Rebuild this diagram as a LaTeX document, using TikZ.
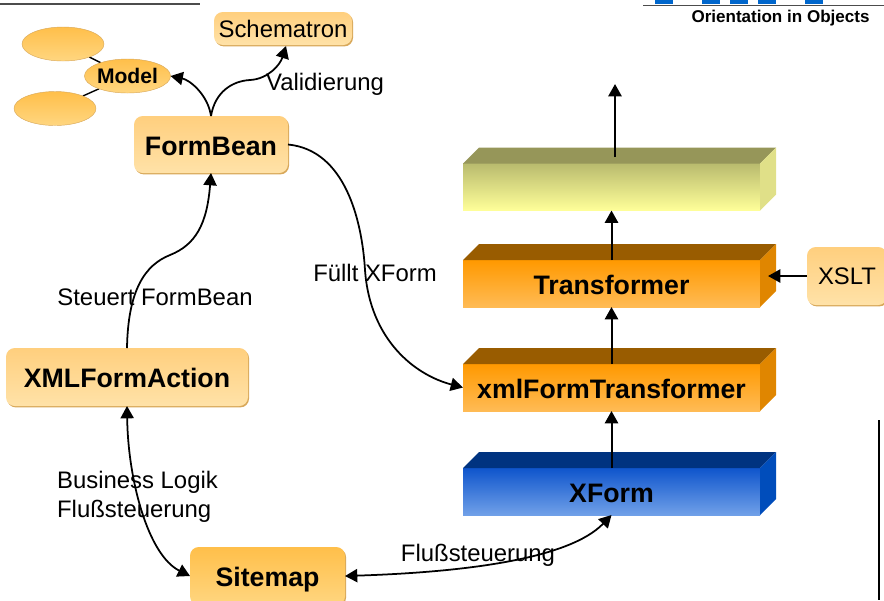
\documentclass[tikz,border=0pt]{standalone}
\usepackage{fontspec}
\setmainfont{Liberation Sans}
\usetikzlibrary{arrows.meta,shapes.geometric,shadows,backgrounds}
\definecolor{paleTop}{HTML}{FFCF7E}
\definecolor{paleBot}{HTML}{FFE2A8}
\definecolor{goldTop}{HTML}{FFBF4A}
\definecolor{goldBot}{HTML}{FFD680}
\definecolor{rim}{HTML}{D8A85A}
\definecolor{yellowFront}{HTML}{B9BB6E}
\definecolor{yellowBase}{HTML}{FFFF99}
\definecolor{yellowTop}{HTML}{969659}
\definecolor{yellowSide}{HTML}{E0E088}
\definecolor{orangeFront}{HTML}{FF9900}
\definecolor{orangeBase}{HTML}{FFBB55}
\definecolor{orangeTop}{HTML}{995C00}
\definecolor{orangeSide}{HTML}{E08600}
\definecolor{blueFront}{HTML}{0F55CC}
\definecolor{blueBase}{HTML}{70A0E8}
\definecolor{blueTop}{HTML}{003380}
\definecolor{blueSide}{HTML}{004DBB}
\definecolor{tabBlue}{HTML}{0066CC}
\tikzset{
    plain/.style={font=\fontsize{13.6}{16.2}\selectfont, inner sep=0pt, align=left},
    strong/.style={font=\fontsize{15.2}{18}\selectfont\bfseries, inner sep=0pt, text height=12.2pt, text depth=0pt},
    card/.style={rounded corners=5pt, inner sep=0pt, outer sep=0pt, top color=paleTop, bottom color=paleBot,
        drop shadow={shadow xshift=0.6pt, shadow yshift=-0.8pt, fill=rim, opacity=1}},
    blob/.style={ellipse, inner sep=0pt, outer sep=0pt, minimum width=82*0.02cm, minimum height=34*0.02cm,
        top color=goldTop, bottom color=goldBot, draw=rim, line width=0.25pt},
    slab/.style={minimum width=297*0.02cm, minimum height=47*0.02cm, inner sep=0pt, outer sep=0pt},
    flow/.style={line width=1pt, -{Triangle[length=7pt,width=7.5pt]}},
    rise/.style={line width=1.15pt, -{Triangle[length=7pt,width=7.5pt]}},
    twoway/.style={line width=1pt, {Triangle[length=7pt,width=7.5pt]}-{Triangle[length=7pt,width=7.5pt]}}
}
\begin{document}
\begin{tikzpicture}[x=0.02cm, y=-0.02cm]
    \useasboundingbox (0,0) rectangle (884,600);

    % Header
    \coordinate (ruleA) at (0,4);
    \coordinate (ruleB) at (200,4);
    \coordinate (ruleC) at (643,5.5);
    \coordinate (ruleD) at (884,5.5);
    \coordinate (ruleE) at (879,420);
    \coordinate (ruleF) at (879,600);
    \draw[line width=0.6pt, black!70] (ruleA) -- (ruleB);
    \draw[line width=0.6pt, black!70] (ruleC) -- (ruleD);
    \draw[line width=0.7pt] (ruleE) -- (ruleF);
    \foreach \tab in {655,702,730,758,805}
        \fill[tabBlue] (\tab,0) rectangle ++(18,3.5);
    \node[font=\fontsize{9.7}{11}\selectfont\bfseries, inner sep=0pt] (brand) at (780.5,18.5) {Orientation in Objects};

    % Slabs
    \node[slab, top color=yellowFront, bottom color=yellowBase] (output) at (611.5,187) {};
    \node[slab, top color=orangeFront, bottom color=orangeBase, strong] (transformer) at (611.5,283.5) {Transformer};
    \node[slab, top color=orangeFront, bottom color=orangeBase, strong] (xmlForm) at (611.5,387.5) {xmlFormTransformer};
    \node[slab, top color=blueFront, bottom color=blueBase, strong] (xform) at (611.5,491.5) {XForm};

    \foreach \slabName/\topCol/\sideCol in {output/yellowTop/yellowSide, transformer/orangeTop/orangeSide, xmlForm/orangeTop/orangeSide, xform/blueTop/blueSide}{
        \fill[\topCol] (\slabName.north west) -- ++(16,-16) -- ++(297,0) -- ++(-16,16) -- cycle;
        \fill[\sideCol] (\slabName.north east) -- ++(16,-16) -- ++(0,47) -- ++(-16,16) -- cycle;
    }

    % Cards
    \node[card, minimum width=138*0.02cm, minimum height=33*0.02cm, plain] (schematron) at (283,28.5) {Schematron};
    \node[card, minimum width=154*0.02cm, minimum height=57*0.02cm, strong] (formBean) at (211,144.5) {FormBean};
    \node[card, minimum width=242*0.02cm, minimum height=58*0.02cm, strong] (xmlAction) at (127,377) {XMLFormAction};
    \node[card, minimum width=80*0.02cm, minimum height=58*0.02cm, plain] (xslt) at (847,276) {XSLT};
    \node[card, top color=goldTop, bottom color=goldBot, minimum width=155*0.02cm, minimum height=58*0.02cm, strong] (sitemap) at (267.5,576) {Sitemap};

    % Model
    \node[blob] (model) at (127.5,76) {\fontsize{12}{14}\selectfont\bfseries Model};
    \node[blob] (upper) at (63,44) {};
    \node[blob] (lower) at (55,108.5) {};
    \begin{scope}[on background layer]
        \draw[line width=0.8pt] (upper) -- (model);
        \draw[line width=0.8pt] (lower) -- (model);
    \end{scope}

    % Straight arrows
    \coordinate (outFoot) at (615,157);
    \coordinate (outTip) at (615,84);
    \coordinate (sideTip) at (768,276);
    \draw[rise] (outFoot) -- (outTip);
    \draw[rise] (transformer.north) -- (output.south);
    \draw[rise] (xmlForm.north) -- (transformer.south);
    \draw[rise] (xform.north) -- (xmlForm.south);
    \draw[rise] (xslt.west) -- (sideTip);

    % Curved arrows
    \coordinate (schemTip) at (286,46);
    \draw[flow] (formBean.north) .. controls (208,95) and (190,80) .. (model.east);
    \draw[flow] (formBean.north) .. controls (215,92) and (232,81) .. (250,80) .. controls (268,79) and (280,65) .. (schemTip);
    \draw[flow] (xmlAction.north) .. controls (128,290) and (145,265) .. (170,255) .. controls (195,245) and (207,225) .. (formBean.south);
    \draw[flow] (formBean.east) .. controls (345,150) and (362,220) .. (365,270) .. controls (370,340) and (415,375) .. (xmlForm.west);
    \draw[twoway] (xmlAction.south) .. controls (128,480) and (148,555) .. (sitemap.west);
    \draw[twoway] (sitemap.east) .. controls (470,572) and (570,558) .. (xform.south);

    % Labeling
    \foreach \spot/\where/\words in {labA/{325,84}/Validierung, labB/{375,273}/Füllt XForm, labC/{155,297}/Steuert FormBean, labD/{137.5,497}/{Business Logik\\Flußsteuerung}, labE/{478,555}/Flußsteuerung}
        \node[plain] (\spot) at (\where) {\words};
\end{tikzpicture}
\end{document}
